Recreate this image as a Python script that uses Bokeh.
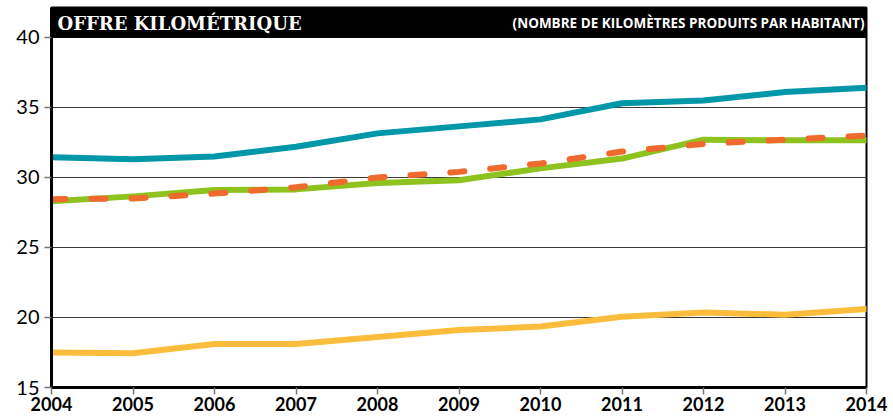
from bokeh.plotting import figure
from bokeh.models import Range1d, FixedTicker, Label
from bokeh.embed import file_html
from bokeh.resources import INLINE

years = [2004, 2005, 2006, 2007, 2008, 2009, 2010, 2011, 2012, 2013, 2014]
teal = [31.45, 31.3, 31.5, 32.2, 33.15, 33.65, 34.15, 35.3, 35.5, 36.1, 36.4]
green = [28.3, 28.65, 29.1, 29.15, 29.6, 29.8, 30.65, 31.35, 32.7, 32.65, 32.65]
orange = [28.45, 28.5, 28.85, 29.3, 30.0, 30.4, 31.0, 31.85, 32.4, 32.7, 33.0]
yellow = [17.5, 17.45, 18.1, 18.1, 18.6, 19.1, 19.35, 20.05, 20.35, 20.2, 20.6]
y_ticks = [15, 20, 25, 30, 35, 40]
title_text = "OFFRE KILOMÉTRIQUE"
subtitle_text = "(NOMBRE DE KILOMÈTRES PRODUITS PAR HABITANT)"

p = figure(width=893, height=418, output_backend="svg", toolbar_location=None,
           x_range=Range1d(2004, 2014), y_range=Range1d(15, 42.14),
           min_border_left=51, min_border_right=27, min_border_top=7, min_border_bottom=31)

p.background_fill_color = "white"
p.border_fill_color = "white"
p.outline_line_color = "black"
p.outline_line_width = 2

# grid
p.xgrid.visible = False
p.ygrid.ticker = FixedTicker(ticks=y_ticks)
p.ygrid.grid_line_color = "#3a3a3a"
p.ygrid.grid_line_width = 1.2

# axes
p.yaxis.ticker = FixedTicker(ticks=y_ticks)
p.xaxis.ticker = FixedTicker(ticks=years)
for ax in (p.xaxis[0], p.yaxis[0]):
    ax.axis_line_color = "black"
    ax.axis_line_width = 3
    ax.major_tick_line_color = "#777777"
    ax.major_tick_line_width = 1.5
    ax.major_tick_in = 0
    ax.minor_tick_line_color = None
p.xaxis.major_tick_out = 7
p.yaxis.major_tick_out = 7
p.xaxis.major_label_standoff = 2
p.yaxis.major_label_standoff = 5
p.xaxis.major_label_text_font = "Lato"
p.xaxis.major_label_text_font_style = "bold"
p.xaxis.major_label_text_font_size = "18px"
p.xaxis.major_label_text_color = "black"
p.yaxis.major_label_text_font = "Lato"
p.yaxis.major_label_text_font_size = "20px"
p.yaxis.major_label_text_color = "black"

# lines
p.line(years, yellow, line_color="#FBBD3B", line_width=6, line_cap="round", line_join="round")
p.line(years, teal, line_color="#0097A8", line_width=6, line_cap="round", line_join="round")
p.line(years, green, line_color="#8DC21F", line_width=6, line_cap="round", line_join="round")
p.line(years, orange, line_color="#F06A2E", line_width=6, line_dash="14 26",
       line_cap="round", line_join="round")

# title bar
p.quad(left=[2004], right=[2014], bottom=[40], top=[42.14], fill_color="black", line_color="black")
p.add_layout(Label(x=2004, y=41.07, text=title_text, x_offset=6, y_offset=-1,
                   text_font="DejaVu Serif", text_font_style="bold", text_font_size="18px",
                   text_color="white", text_baseline="middle"))
p.add_layout(Label(x=2014, y=41.07, text=subtitle_text, x_offset=-2, y_offset=-1,
                   text_font="Open Sans", text_font_style="bold", text_font_size="13.5px",
                   text_color="white", text_baseline="middle", text_align="right"))

open("out.html", "w").write(file_html(p, INLINE))
